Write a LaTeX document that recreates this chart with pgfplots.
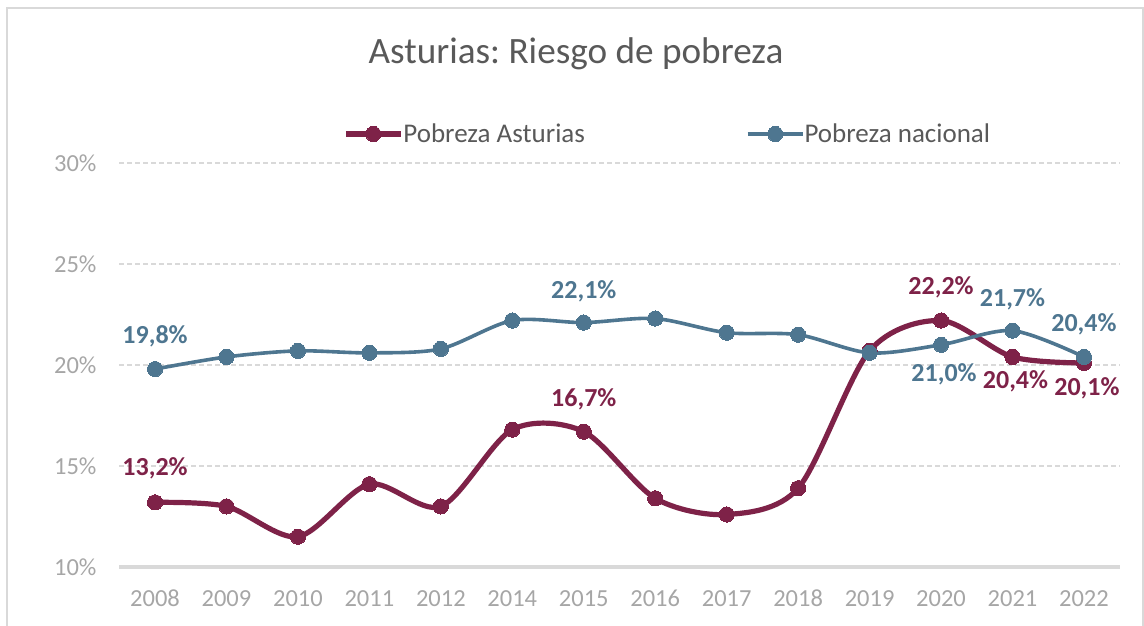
\documentclass[border=0pt]{standalone}
\usepackage{fontspec}
\setmainfont{Carlito}
\usepackage{pgfplots}
\pgfplotsset{compat=1.18}
\frenchspacing
\definecolor{ast}{HTML}{7E2248}
\definecolor{nac}{HTML}{4E7690}
\definecolor{gridc}{HTML}{D9D9D9}
\definecolor{tickc}{HTML}{A6A6A6}
\definecolor{titc}{HTML}{595959}
\begin{document}
\begin{tikzpicture}[x=1pt,y=1pt]
\path[use as bounding box] (0,0) rectangle (1144,625);
\draw[gridc, line width=1.5pt] (7,617) rectangle (1143,-20);
\node[anchor=base, font=\fontsize{37.2}{44}\selectfont, text=titc, inner sep=0pt] at (576,561) {Asturias: Riesgo de pobreza};
\begin{axis}[
  at={(119.3pt,58pt)}, anchor=south west,
  scale only axis, width=1000.4pt, height=404pt,
  xmin=-0.5, xmax=13.5, ymin=10, ymax=30,
  clip=false,
  xtick={0,...,13},
  xticklabels={2008,2009,2010,2011,2012,2014,2015,2016,2017,2018,2019,2020,2021,2022},
  ytick={10,15,20,25,30},
  yticklabels={10\%,15\%,20\%,25\%,30\%},
  major tick length=0pt,
  ymajorgrids,
  grid style={gridc, line width=1.5pt, dash pattern=on 5pt off 3pt},
  separate axis lines,
  axis x line*=bottom, axis y line*=left,
  x axis line style={gridc, line width=4pt, -},
  y axis line style={draw=none},
  xticklabel style={font=\fontsize{24.5}{29}\selectfont, text=tickc, anchor=base, inner sep=0pt, yshift=-39pt},
  yticklabel style={font=\fontsize{24.5}{29}\selectfont, text=tickc, anchor=east, inner sep=0pt, xshift=-22.6pt},
  legend columns=2,
  legend image code/.code={\draw[mark repeat=2, mark phase=2, #1] plot coordinates {(0pt,0pt) (27.5pt,0pt) (55pt,0pt)};},
  legend style={at={(0.2236,1.0718)}, anchor=west, draw=none, fill=none, inner sep=0pt,
    font=\fontsize{27}{32}\selectfont, text=titc, nodes={inner sep=0pt},
    /tikz/every odd column/.append style={column sep=0pt},
    /tikz/every even column/.append style={column sep=161pt}},
]
\addplot[ast, line width=5.2pt, smooth, mark=*, mark size=7.6pt, mark options={solid, fill=ast, draw=ast, line width=0pt}]
  coordinates {(0,13.2) (1,13.0) (2,11.5) (3,14.1) (4,13.0) (5,16.8) (6,16.7) (7,13.4) (8,12.6) (9,13.9) (10,20.7) (11,22.2) (12,20.4) (13,20.1)};
\addlegendentry{Pobreza Asturias}
\addplot[nac, line width=3.6pt, smooth, mark=*, mark size=7.6pt, mark options={solid, fill=nac, draw=nac, line width=0pt}]
  coordinates {(0,19.8) (1,20.4) (2,20.7) (3,20.6) (4,20.8) (5,22.2) (6,22.1) (7,22.3) (8,21.6) (9,21.5) (10,20.6) (11,21.0) (12,21.7) (13,20.4)};
\addlegendentry{Pobreza nacional}
\tikzset{lblA/.style={anchor=base, inner sep=0pt, text=ast, font=\bfseries\fontsize{26}{31}\selectfont},
         lblN/.style={anchor=base, inner sep=0pt, text=nac, font=\bfseries\fontsize{26}{31}\selectfont}}
\node[lblA, yshift=26.8pt] at (axis cs:0,13.2) {13,2\%};
\node[lblA, yshift=24.8pt] at (axis cs:6,16.7) {16,7\%};
\node[lblA, yshift=25.8pt] at (axis cs:11,22.2) {22,2\%};
\node[lblA, yshift=-31.2pt, xshift=3pt] at (axis cs:12,20.4) {20,4\%};
\node[lblA, yshift=-32.2pt, xshift=3pt] at (axis cs:13,20.1) {20,1\%};
\node[lblN, yshift=25.8pt] at (axis cs:0,19.8) {19,8\%};
\node[lblN, yshift=23.8pt] at (axis cs:6,22.1) {22,1\%};
\node[lblN, yshift=-36.7pt, xshift=3pt] at (axis cs:11,21.0) {21,0\%};
\node[lblN, yshift=23.8pt] at (axis cs:12,21.7) {21,7\%};
\node[lblN, yshift=25.4pt] at (axis cs:13,20.4) {20,4\%};
\end{axis}
\end{tikzpicture}
\end{document}
